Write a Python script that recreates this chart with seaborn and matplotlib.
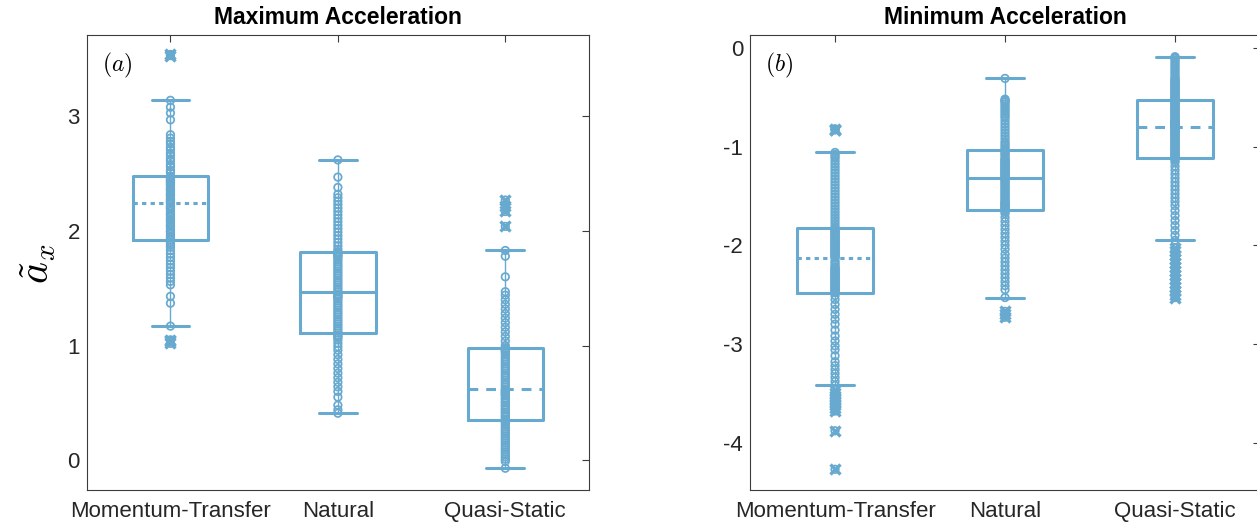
import matplotlib
matplotlib.use("Agg")
import matplotlib.pyplot as plt
import numpy as np
import pandas as pd
import seaborn as sns

# ---------------------------------------------------------------- data
categories = ["Momentum-Transfer", "Natural", "Quasi-Static"]

# peak forward acceleration per trial (normalised)
max_momentum = [
    1.02, 1.04, 1.05, 1.17, 1.37, 1.43,
    1.53, 1.56, 1.59, 1.62, 1.65, 1.68, 1.71, 1.74, 1.77, 1.80, 1.83, 1.86, 1.88, 1.90,
    1.92,
    1.94, 1.95, 1.97, 1.99, 2.00, 2.02, 2.04, 2.05, 2.07, 2.09, 2.10, 2.12, 2.14, 2.15,
    2.17, 2.19, 2.20, 2.21, 2.22,
    2.24,
    2.25, 2.26, 2.27, 2.28, 2.30, 2.31, 2.32, 2.33, 2.35, 2.36, 2.37, 2.38, 2.40, 2.41,
    2.42, 2.43, 2.44, 2.45, 2.46,
    2.48,
    2.51, 2.53, 2.56, 2.58, 2.61, 2.63, 2.66, 2.68, 2.71, 2.73, 2.76, 2.78, 2.81, 2.84,
    2.97, 3.03, 3.08, 3.14, 3.53, 3.54,
]
max_natural = [
    0.41, 0.44, 0.48, 0.55, 0.60, 0.64, 0.68, 0.72, 0.76, 0.80, 0.84, 0.88, 0.92, 0.96,
    0.99, 1.02, 1.05, 1.07, 1.08, 1.09,
    1.11,
    1.13, 1.15, 1.17, 1.19, 1.21, 1.23, 1.25, 1.27, 1.29, 1.31, 1.33, 1.35, 1.37, 1.39,
    1.41, 1.42, 1.43, 1.44, 1.45,
    1.47,
    1.49, 1.51, 1.53, 1.55, 1.57, 1.59, 1.61, 1.63, 1.65, 1.67, 1.69, 1.71, 1.73, 1.75,
    1.77, 1.78, 1.79, 1.80, 1.81,
    1.82,
    1.84, 1.87, 1.90, 1.93, 1.96, 1.99, 2.02, 2.05, 2.08, 2.11, 2.14, 2.17, 2.20, 2.23,
    2.26, 2.29, 2.32, 2.38, 2.47, 2.62,
]
max_quasi = [
    -0.07, -0.01, 0.01, 0.03, 0.05, 0.07, 0.09, 0.11, 0.13, 0.15, 0.17, 0.19, 0.21, 0.23,
    0.25, 0.27, 0.29, 0.31, 0.33, 0.34,
    0.35,
    0.36, 0.38, 0.39, 0.41, 0.42, 0.44, 0.45, 0.47, 0.48, 0.50, 0.51, 0.53, 0.54, 0.56,
    0.57, 0.58, 0.59, 0.60, 0.61,
    0.62,
    0.64, 0.66, 0.68, 0.70, 0.72, 0.74, 0.76, 0.78, 0.80, 0.82, 0.84, 0.86, 0.88, 0.90,
    0.92, 0.94, 0.95, 0.96, 0.97,
    0.98,
    1.00, 1.04, 1.08, 1.12, 1.16, 1.20, 1.24, 1.28, 1.32, 1.36, 1.40, 1.44, 1.47, 1.60,
    1.78, 1.83, 2.04, 2.17, 2.22, 2.27,
]

# peak braking acceleration per trial (normalised)
min_momentum = [
    -4.27, -3.88, -3.68, -3.65, -3.62, -3.59, -3.56, -3.53, -3.50, -3.47,
    -3.42,
    -3.38, -3.34, -3.30, -3.26, -3.22, -3.18, -3.12, -3.06, -3.02, -2.97,
    -2.92, -2.86, -2.80, -2.75, -2.70, -2.65, -2.60, -2.55, -2.51,
    -2.48,
    -2.47, -2.46, -2.45, -2.44, -2.43, -2.42, -2.41, -2.40, -2.39, -2.38, -2.37, -2.36,
    -2.35, -2.34, -2.33, -2.32, -2.31, -2.30, -2.29, -2.28, -2.27, -2.26, -2.25, -2.24,
    -2.23, -2.22, -2.20, -2.18, -2.16,
    -2.13,
    -2.12, -2.11, -2.10, -2.09, -2.08, -2.07, -2.06, -2.05, -2.04, -2.03, -2.02, -2.01,
    -2.00, -1.99, -1.98, -1.97, -1.96, -1.95, -1.94, -1.93, -1.92, -1.91, -1.90, -1.89,
    -1.88, -1.87, -1.86, -1.85, -1.84,
    -1.83,
    -1.81, -1.78, -1.75, -1.72, -1.69, -1.66, -1.63, -1.60, -1.57, -1.54, -1.51, -1.48,
    -1.45, -1.42, -1.39, -1.36, -1.33, -1.30, -1.27, -1.24, -1.21, -1.18,
    -1.15, -1.12, -1.10, -1.08, -1.06, -0.83, -0.83, -0.82,
]
min_natural = [
    -2.73, -2.70, -2.67, -2.53,
    -2.45, -2.41, -2.37, -2.33, -2.29, -2.25, -2.21, -2.17, -2.13, -2.09,
    -2.04, -2.00, -1.96, -1.92, -1.88, -1.84, -1.80, -1.76, -1.72, -1.68, -1.66,
    -1.64,
    -1.63, -1.62, -1.61, -1.60, -1.59, -1.58, -1.57, -1.56, -1.55, -1.53, -1.52, -1.50,
    -1.49, -1.47, -1.46, -1.44, -1.43, -1.41, -1.40, -1.38, -1.37, -1.35, -1.34, -1.33,
    -1.32,
    -1.31, -1.30, -1.29, -1.28, -1.27, -1.26, -1.25, -1.24, -1.23, -1.22, -1.21, -1.20,
    -1.19, -1.18, -1.17, -1.16, -1.15, -1.14, -1.13, -1.12, -1.10, -1.08, -1.07, -1.05,
    -1.04,
    -1.03, -1.01, -0.99, -0.97, -0.95, -0.92, -0.89, -0.86, -0.83, -0.80, -0.77, -0.74,
    -0.71, -0.69, -0.67, -0.65, -0.63, -0.61, -0.59, -0.57, -0.55, -0.54, -0.53, -0.52,
    -0.31,
]
min_quasi = [
    -2.53, -2.50, -2.46, -2.42, -2.38, -2.34, -2.30, -2.26, -2.22, -2.18, -2.14, -2.10,
    -2.06, -2.03,
    -1.95,
    -1.90, -1.85, -1.80, -1.75, -1.70, -1.65, -1.60, -1.56,
    -1.52, -1.48, -1.44, -1.40, -1.36, -1.32, -1.28, -1.24, -1.20, -1.16, -1.14,
    -1.12,
    -1.115, -1.11, -1.10, -1.09, -1.08, -1.07, -1.06, -1.05, -1.04, -1.03, -1.02, -1.01,
    -1.00, -0.99, -0.98, -0.97, -0.96, -0.95, -0.94, -0.93, -0.92, -0.91, -0.90, -0.89,
    -0.88, -0.87, -0.86, -0.85, -0.84, -0.83, -0.82, -0.81, -0.805,
    -0.80,
    -0.795, -0.79, -0.785, -0.78, -0.775, -0.77, -0.765, -0.76, -0.755, -0.75, -0.745,
    -0.74, -0.73, -0.72, -0.71, -0.70, -0.69, -0.68, -0.67, -0.66, -0.65, -0.64, -0.63,
    -0.62, -0.61, -0.60, -0.59, -0.58, -0.57, -0.56, -0.55, -0.54, -0.535,
    -0.53,
    -0.52, -0.51, -0.50, -0.49, -0.48, -0.47, -0.46, -0.45, -0.44, -0.43, -0.42, -0.41,
    -0.40, -0.39, -0.38, -0.37, -0.36, -0.35, -0.34, -0.33, -0.32, -0.31,
    -0.29, -0.27, -0.25, -0.23, -0.21, -0.19, -0.17, -0.15, -0.13, -0.11, -0.10, -0.09,
]

# ---------------------------------------------------------------- style
sns.set_theme(style="white")
plt.rcParams["font.family"] = ["Liberation Sans", "DejaVu Sans"]
plt.rcParams["mathtext.fontset"] = "cm"
plt.rcParams["axes.unicode_minus"] = False

BLUE = "#67a9cf"
AXIS_GREY = "#3c3c3c"
TEXT_GREY = "#262626"
median_styles = [(0, (1.4, 1.4)), "-", (0, (3.2, 2.6))]


def long_table(groups):
    return pd.DataFrame({
        "condition": np.repeat(categories, [len(g) for g in groups]),
        "value": np.concatenate(groups),
    })


def draw_panel(ax, groups, title, tag, ylim, yticks):
    df = long_table(groups)
    for cat, ls in zip(categories, median_styles):
        sns.boxplot(
            data=df[df["condition"] == cat], x="condition", y="value",
            order=categories, ax=ax, width=0.45, fill=False, color=BLUE,
            linewidth=2.2, whis=1.5,
            whiskerprops=dict(linewidth=1.0, color=BLUE),
            capprops=dict(linewidth=2.2, color=BLUE),
            medianprops=dict(linestyle=ls, linewidth=2.2, color=BLUE),
            flierprops=dict(marker="x", markersize=6.5, markeredgewidth=2.4,
                            markeredgecolor=BLUE),
        )
    sns.stripplot(
        data=df, x="condition", y="value", order=categories, ax=ax,
        jitter=False, size=5.4, color=BLUE, edgecolor=BLUE, linewidth=1.25,
        marker="o",
    )
    for coll in ax.collections:
        coll.set_facecolor("none")
        coll.set_edgecolor(BLUE)

    ax.set_xlim(-0.5, 2.5)
    ax.set_ylim(*ylim)
    ax.set_yticks(yticks)
    ax.set_yticklabels([f"{t:g}" for t in yticks])
    ax.set_xlabel("")
    ax.set_ylabel("")
    ax.set_title(title, fontsize=16.5, fontweight="bold", color="black", pad=8)
    ax.tick_params(axis="both", direction="in", length=5, width=0.8,
                   top=True, right=True, colors=AXIS_GREY,
                   labelcolor=TEXT_GREY, labelsize=16)
    ax.tick_params(axis="x", pad=8)
    ax.tick_params(axis="y", pad=5)
    for sp in ax.spines.values():
        sp.set_visible(True)
        sp.set_color(AXIS_GREY)
        sp.set_linewidth(0.8)
    ax.grid(False)
    ax.text(0.03, 0.965, tag, transform=ax.transAxes, ha="left", va="top",
            fontsize=17, color="black")


fig = plt.figure(figsize=(12.57, 5.27), dpi=100)
ax_max = fig.add_axes([0.069, 0.0702, 0.3996, 0.8634])
ax_min = fig.add_axes([0.5967, 0.0702, 0.4057, 0.8634])

draw_panel(ax_max, [max_momentum, max_natural, max_quasi],
           "Maximum Acceleration", r"$(a)$", (-0.26, 3.71), [0, 1, 2, 3])
draw_panel(ax_min, [min_momentum, min_natural, min_quasi],
           "Minimum Acceleration", r"$(b)$", (-4.48, 0.13), [-4, -3, -2, -1, 0])

fig.text(0.03, 0.50, r"$\tilde{a}_x$", rotation=90, ha="center", va="center",
         fontsize=30, color="black")

fig.savefig("out.png", dpi=100)
